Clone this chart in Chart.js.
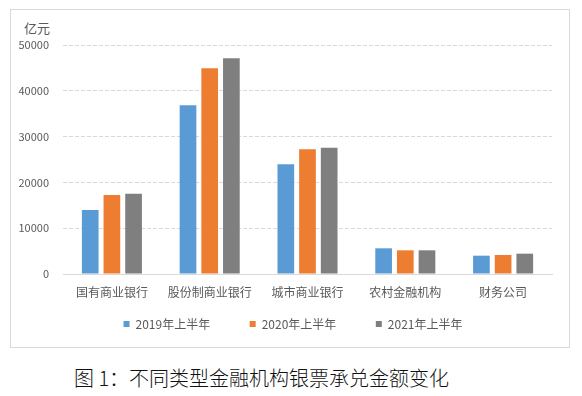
<!DOCTYPE html>
<html lang="zh">
<head>
    <meta charset="UTF-8">
    <title>不同类型金融机构银票承兑金额变化</title>
    <script src="https://cdn.jsdelivr.net/npm/chart.js"></script>
    <style>
        body {
            margin: 0;
            width: 582px;
            height: 396px;
            background: white;
            position: relative;
            overflow: hidden;
            font-family: "Noto Sans CJK SC", sans-serif;
        }
        .frame {
            position: absolute;
            left: 10px;
            top: 9px;
            width: 558px;
            height: 337px;
            border: 1px solid #d9d9d9;
        }
        #accChart {
            position: absolute;
            left: 10px;
            top: 9px;
        }
        .unit {
            position: absolute;
            left: 24px;
            top: 18px;
            font-size: 13px;
            color: #595959;
        }
        .caption {
            position: absolute;
            left: 74px;
            top: 364px;
            font-size: 20px;
            font-weight: 300;
            line-height: 28px;
            color: #111;
        }
    </style>
</head>
<body>
    <div class="frame"></div>
    <div class="unit">亿元</div>
    <canvas id="accChart" width="559" height="338"></canvas>
    <div class="caption">图 1：不同类型金融机构银票承兑金额变化</div>

    <script>
        const categories = ['国有商业银行', '股份制商业银行', '城市商业银行', '农村金融机构', '财务公司'];
        const seriesNames = ['2019年上半年', '2020年上半年', '2021年上半年'];
        const values2019 = [13970, 36830, 23950, 5610, 4000];
        const values2020 = [17250, 44910, 27230, 5170, 4150];
        const values2021 = [17540, 47100, 27580, 5170, 4440];
        const colors = ['#5b9bd5', '#ed7d31', '#7f7f7f'];

        const textColor = '#595959';
        const font = { family: '"Noto Sans CJK SC", sans-serif', size: 11 };
        const labelFont = { family: '"Noto Sans CJK SC", sans-serif', size: 12 };
        const legendPad = 39.5;

        // legend padding also pads vertically, so move the legend row up under the axis labels
        const legendShift = {
            id: 'legendShift',
            afterLayout(chart) {
                const lg = chart.legend;
                lg.top = 315 - legendPad - labelFont.size / 2;
                lg.bottom = chart.height;
                lg.height = lg.bottom - lg.top;
                lg.left += 12;
                lg.right += 12;
            }
        };

        const ctx = document.getElementById('accChart').getContext('2d');
        new Chart(ctx, {
            type: 'bar',
            data: {
                labels: categories,
                datasets: [values2019, values2020, values2021].map((vals, i) => ({
                    label: seriesNames[i],
                    data: vals,
                    backgroundColor: colors[i],
                    categoryPercentage: 0.665,
                    barPercentage: 0.77
                }))
            },
            options: {
                responsive: false,
                animation: false,
                devicePixelRatio: 1,
                layout: { padding: { top: 36, right: 17, bottom: 23, left: 0 } },
                plugins: {
                    tooltip: { enabled: false },
                    legend: {
                        position: 'bottom',
                        maxHeight: 20,
                        labels: {
                            boxWidth: 6,
                            boxHeight: 6,
                            padding: legendPad,
                            color: textColor,
                            font: labelFont
                        }
                    }
                },
                scales: {
                    x: {
                        grid: { display: false, drawTicks: false },
                        border: { color: '#d9d9d9', width: 1 },
                        ticks: { color: textColor, font: labelFont, padding: 11, maxRotation: 0, autoSkip: false },
                        afterFit: scale => { scale.height = 30; }
                    },
                    y: {
                        min: 0,
                        max: 50000,
                        grid: { color: '#d9d9d9', drawTicks: false },
                        border: { display: false, dash: [4, 2] },
                        ticks: {
                            stepSize: 10000,
                            color: textColor,
                            font: font,
                            padding: 14,
                            callback: v => String(v)
                        },
                        afterFit: scale => { scale.width = 53; }
                    }
                }
            },
            plugins: [legendShift]
        });
    </script>
</body>
</html>
